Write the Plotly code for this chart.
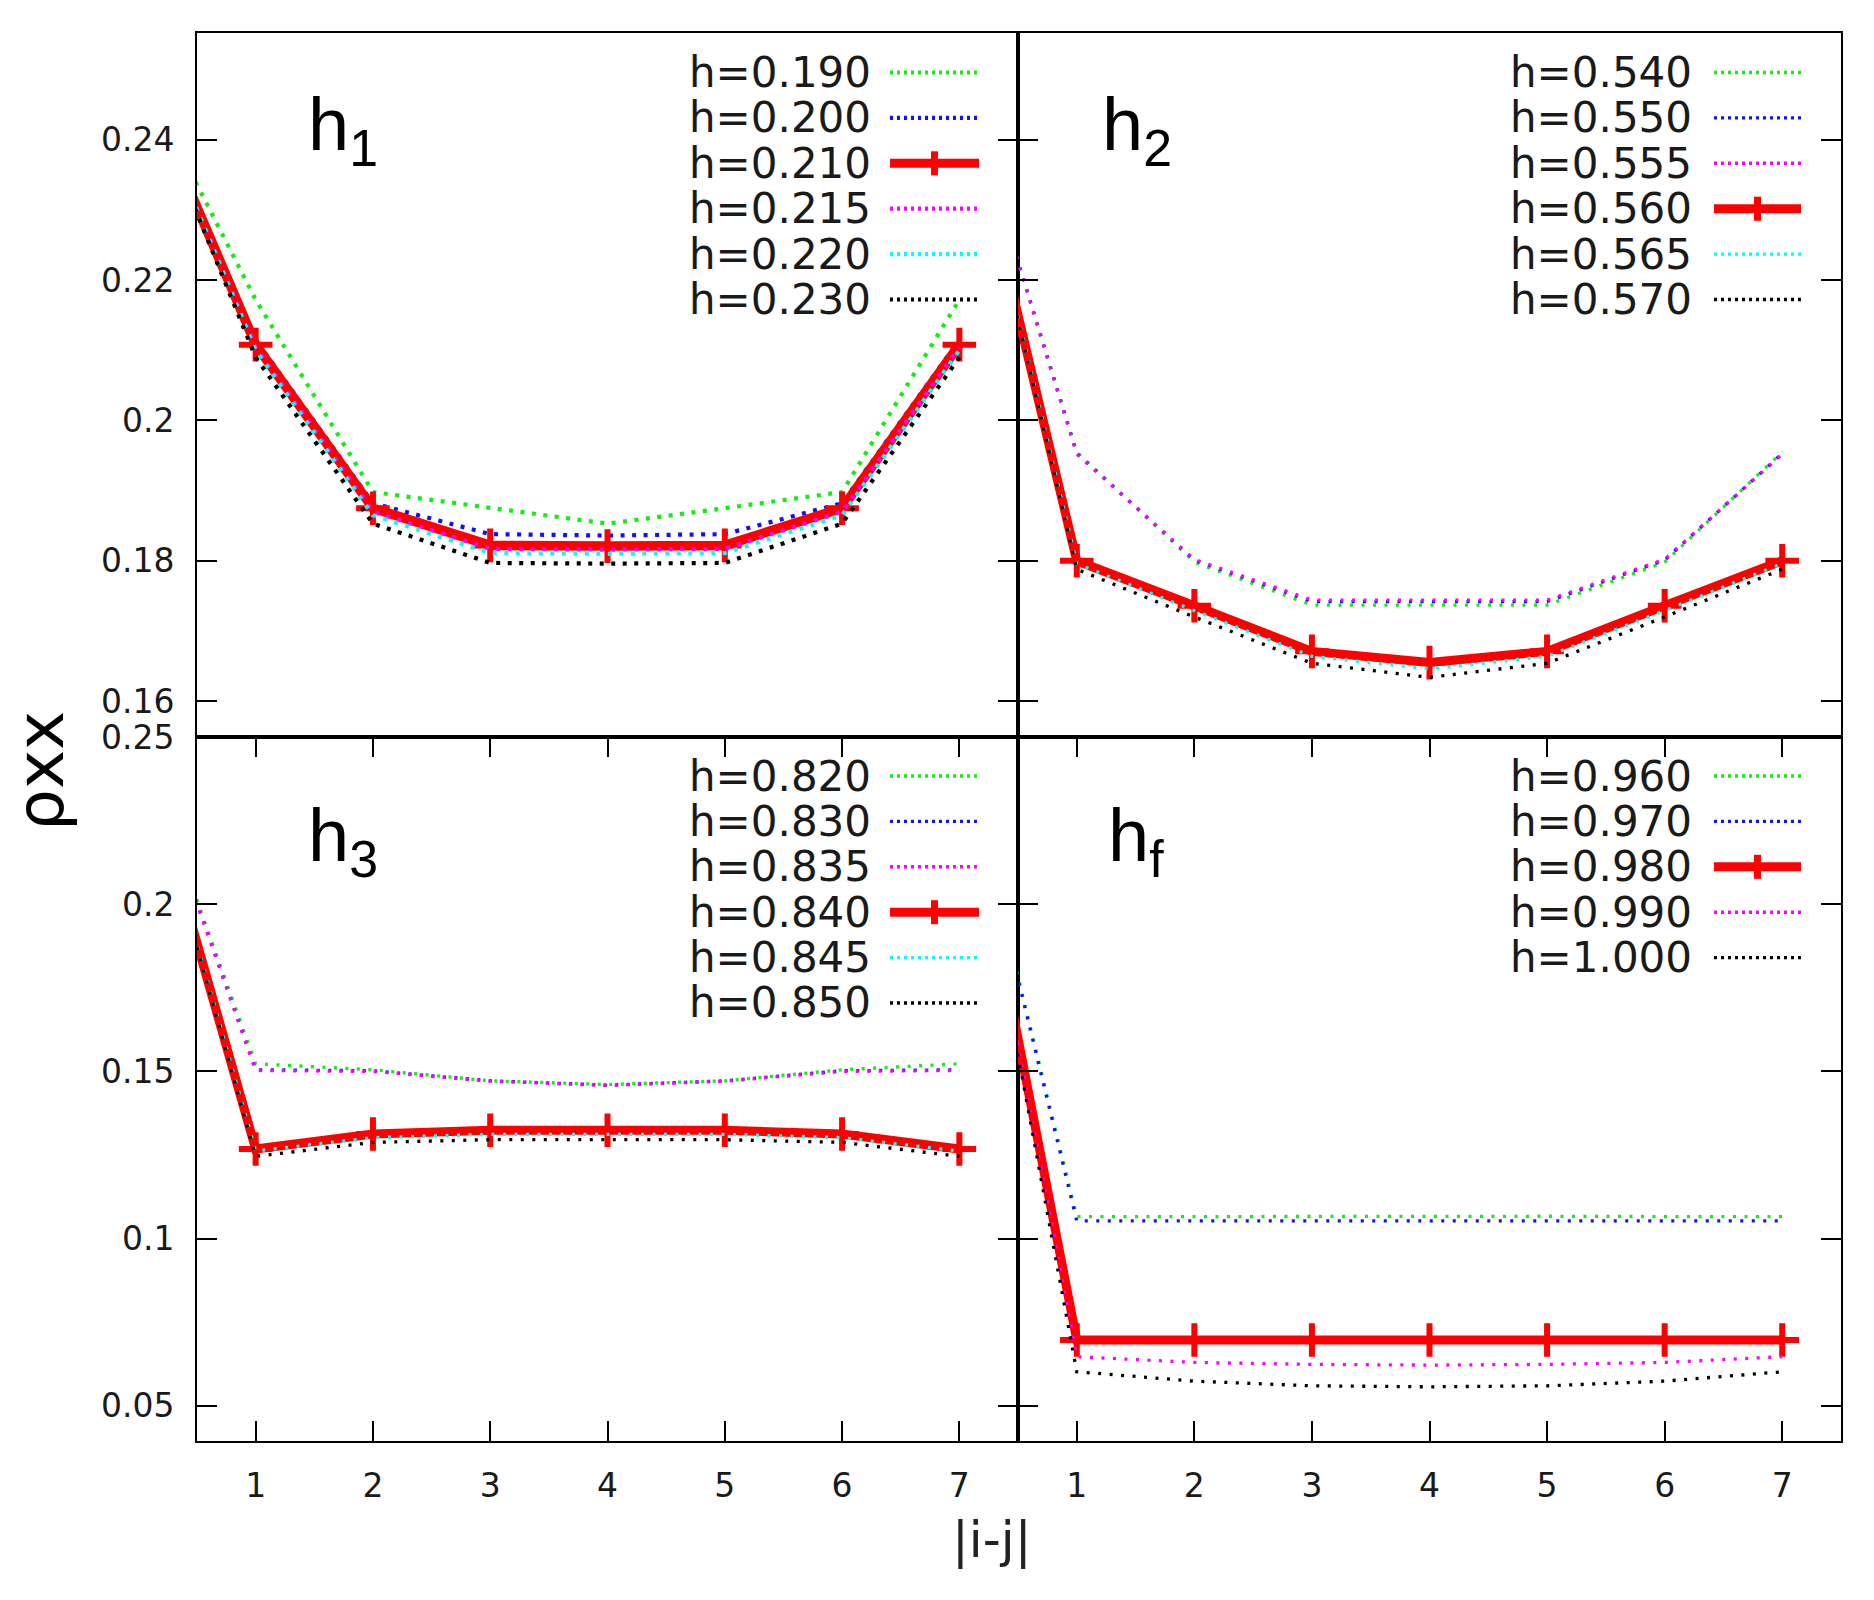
import plotly.graph_objects as go
from plotly.subplots import make_subplots

W, H = 1874, 1600

# ---------------- data ----------------
dist = [0, 1, 2, 3, 4, 5, 6, 7]

# panel h1
h1_labels = ["h=0.190", "h=0.200", "h=0.210", "h=0.215", "h=0.220", "h=0.230"]
rho_h0190 = [0.25, 0.2172, 0.1898, 0.1875, 0.1853, 0.1875, 0.1898, 0.2172]
rho_h0200 = [0.25, 0.2115, 0.1882, 0.1838, 0.1836, 0.1838, 0.1882, 0.2115]
rho_h0210 = [0.25, 0.2108, 0.1875, 0.1822, 0.1821, 0.1822, 0.1875, 0.2108]
rho_h0215 = [0.25, 0.2104, 0.1870, 0.1817, 0.1816, 0.1817, 0.1870, 0.2104]
rho_h0220 = [0.25, 0.2100, 0.1865, 0.1811, 0.1810, 0.1811, 0.1865, 0.2100]
rho_h0230 = [0.25, 0.2090, 0.1853, 0.1797, 0.1796, 0.1797, 0.1853, 0.2090]

# panel h2
h2_labels = ["h=0.540", "h=0.550", "h=0.555", "h=0.560", "h=0.565", "h=0.570"]
rho_h0540 = [0.25, 0.1955, 0.1798, 0.1737, 0.1737, 0.1737, 0.1798, 0.1955]
rho_h0550 = [0.25, 0.1953, 0.1801, 0.1742, 0.1742, 0.1742, 0.1801, 0.1953]
rho_h0555 = [0.25, 0.1952, 0.1802, 0.1744, 0.1744, 0.1744, 0.1802, 0.1952]
rho_h0560 = [0.25, 0.1800, 0.1736, 0.1671, 0.1655, 0.1671, 0.1736, 0.1800]
rho_h0565 = [0.25, 0.1796, 0.1729, 0.1664, 0.1646, 0.1664, 0.1729, 0.1796]
rho_h0570 = [0.25, 0.1788, 0.1720, 0.1654, 0.1634, 0.1654, 0.1720, 0.1788]

# panel h3
h3_labels = ["h=0.820", "h=0.830", "h=0.835", "h=0.840", "h=0.845", "h=0.850"]
rho_h0820 = [0.25, 0.1523, 0.1505, 0.1472, 0.1461, 0.1472, 0.1505, 0.1523]
rho_h0830 = [0.25, 0.1505, 0.1502, 0.1472, 0.1459, 0.1472, 0.1502, 0.1505]
rho_h0835 = [0.25, 0.1503, 0.1500, 0.1471, 0.1458, 0.1471, 0.1500, 0.1503]
rho_h0840 = [0.25, 0.1268, 0.1313, 0.1324, 0.1324, 0.1324, 0.1313, 0.1268]
rho_h0845 = [0.25, 0.1262, 0.1302, 0.1312, 0.1312, 0.1312, 0.1302, 0.1262]
rho_h0850 = [0.25, 0.1246, 0.1288, 0.1296, 0.1296, 0.1296, 0.1288, 0.1246]

# panel hf
hf_labels = ["h=0.960", "h=0.970", "h=0.980", "h=0.990", "h=1.000"]
rho_h0960 = [0.25, 0.1066, 0.1066, 0.1067, 0.1067, 0.1067, 0.1066, 0.1066]
rho_h0970 = [0.25, 0.1053, 0.1053, 0.1053, 0.1053, 0.1053, 0.1053, 0.1053]
rho_h0980 = [0.25, 0.0697, 0.0697, 0.0697, 0.0697, 0.0697, 0.0697, 0.0697]
rho_h0990 = [0.25, 0.0647, 0.0630, 0.0624, 0.0622, 0.0624, 0.0630, 0.0647]
rho_h1000 = [0.25, 0.0602, 0.0574, 0.0560, 0.0557, 0.0560, 0.0574, 0.0602]

x_ticks = [1, 2, 3, 4, 5, 6, 7]
top_yticks = [0.16, 0.18, 0.20, 0.22, 0.24]
top_yticktext = ["0.16", "0.18", "0.2", "0.22", "0.24"]
bot_yticks = [0.05, 0.10, 0.15, 0.20, 0.25]
bot_yticktext = ["0.05", "0.1", "0.15", "0.2", "0.25"]

# ---------------- styling ----------------
GREEN, BLUE, RED, MAGENTA, CYAN, BLACK = "#11ee11", "#1010ff", "#ff0000", "#ff00ff", "#00ffff", "#000000"
FONT = "DejaVu Sans"
TXT = "#1a1a1a"
LEGDOT = "3px,4px"

panels = [
    dict(row=1, col=1, title="h<sub>1</sub>", labels=h1_labels,
         series=[rho_h0190, rho_h0200, rho_h0210, rho_h0215, rho_h0220, rho_h0230],
         colors=[GREEN, BLUE, RED, MAGENTA, CYAN, BLACK], red=2,
         leg=(873, 890, 979, 72.5), lab=(306, 130), dotw=4.2, dot="4px,7.5px",
         redw=9.5, legw=4.2),
    dict(row=1, col=2, title="h<sub>2</sub>", labels=h2_labels,
         series=[rho_h0540, rho_h0550, rho_h0555, rho_h0560, rho_h0565, rho_h0570],
         colors=[GREEN, BLUE, MAGENTA, RED, CYAN, BLACK], red=3,
         leg=(1694, 1714, 1801, 72.5), lab=(1100, 130), dotw=3.3, dot="3px,8.5px",
         redw=9, legw=3.4),
    dict(row=2, col=1, title="h<sub>3</sub>", labels=h3_labels,
         series=[rho_h0820, rho_h0830, rho_h0835, rho_h0840, rho_h0845, rho_h0850],
         colors=[GREEN, BLUE, MAGENTA, RED, CYAN, BLACK], red=3,
         leg=(873, 890, 979, 776), lab=(306, 841), dotw=3.3, dot="3px,8.5px",
         redw=9, legw=3.4),
    dict(row=2, col=2, title="h<sub>f</sub>", labels=hf_labels,
         series=[rho_h0960, rho_h0970, rho_h0980, rho_h0990, rho_h1000],
         colors=[GREEN, BLUE, RED, MAGENTA, BLACK], red=2,
         leg=(1694, 1714, 1801, 776), lab=(1106, 841), dotw=3.3, dot="3px,8.5px",
         redw=9, legw=3.4),
]
ROWSTEP = 45.4


def px(x):
    return x / W


def py(y):
    return 1 - y / H


fig = make_subplots(rows=2, cols=2, horizontal_spacing=0, vertical_spacing=0)

annotations = []
shapes = []

for p in panels:
    for i, (lab, ys, col) in enumerate(zip(p["labels"], p["series"], p["colors"])):
        if i == p["red"]:
            fig.add_trace(go.Scatter(
                x=dist, y=ys, name=lab, mode="lines+markers",
                line=dict(color=col, width=p["redw"]),
                marker=dict(symbol="cross-thin", size=24, color=col,
                            line=dict(color=col, width=6)),
                showlegend=False), row=p["row"], col=p["col"])
        else:
            fig.add_trace(go.Scatter(
                x=dist, y=ys, name=lab, mode="lines",
                line=dict(color=col, width=p["dotw"], dash=p["dot"]),
                showlegend=False), row=p["row"], col=p["col"])

    # manual gnuplot-style key: text on the left, sample on the right
    tr, s0, s1, r0 = p["leg"]
    for i, (lab, col) in enumerate(zip(p["labels"], p["colors"])):
        yy = r0 + i * ROWSTEP
        annotations.append(dict(
            xref="paper", yref="paper", x=px(tr), y=py(yy), text=lab,
            showarrow=False, xanchor="right", yanchor="middle",
            font=dict(family=FONT, size=42, color=TXT)))
        if i == p["red"]:
            shapes.append(dict(type="line", xref="paper", yref="paper",
                               x0=px(s0), x1=px(s1), y0=py(yy), y1=py(yy),
                               line=dict(color=col, width=9)))
            xm = (s0 + s1) / 2
            shapes.append(dict(type="line", xref="paper", yref="paper",
                               x0=px(xm), x1=px(xm), y0=py(yy - 12), y1=py(yy + 12),
                               line=dict(color=col, width=7)))
        else:
            shapes.append(dict(type="line", xref="paper", yref="paper",
                               x0=px(s0), x1=px(s1), y0=py(yy), y1=py(yy),
                               line=dict(color=col, width=p["legw"], dash=LEGDOT)))

    lx, ly = p["lab"]
    annotations.append(dict(
        xref="paper", yref="paper", x=px(lx), y=py(ly), text=p["title"],
        showarrow=False, xanchor="left", yanchor="middle",
        font=dict(family="Liberation Sans", size=74, color="#000000")))

# axis titles
annotations.append(dict(xref="paper", yref="paper", x=px(40), y=py(771),
                        text="ρxx", textangle=-90, showarrow=False,
                        xanchor="center", yanchor="middle",
                        font=dict(family=FONT, size=66, color="#000000")))
annotations.append(dict(xref="paper", yref="paper", x=px(992), y=py(1540),
                        text="|i-j|", showarrow=False,
                        xanchor="center", yanchor="middle",
                        font=dict(family=FONT, size=50, color="#222222")))

left_dom = [px(197), px(1018)]
right_dom = [px(1018), px(1841)]
top_dom = [py(737), py(33)]
bot_dom = [py(1441), py(737)]

common = dict(showline=True, linecolor="#000000", linewidth=2, showgrid=False,
              zeroline=False, ticklen=20, tickwidth=2, tickcolor="#000000",
              automargin=False)
tickfont = dict(family=FONT, size=33, color=TXT)

fig.update_layout(
    xaxis=dict(domain=left_dom, range=[0.5, 7.5], mirror=True, ticks="",
               showticklabels=False, **common),
    xaxis2=dict(domain=right_dom, range=[0.5, 7.5], mirror=True, ticks="",
                showticklabels=False, **common),
    xaxis3=dict(domain=left_dom, range=[0.5, 7.5], mirror="allticks", ticks="inside",
                tickvals=x_ticks, tickfont=tickfont, ticklabelstandoff=14, **common),
    xaxis4=dict(domain=right_dom, range=[0.5, 7.5], mirror="allticks", ticks="inside",
                tickvals=x_ticks, tickfont=tickfont, ticklabelstandoff=14, **common),
    yaxis=dict(domain=top_dom, range=[0.1549, 0.2552], mirror="allticks", ticks="inside",
               tickvals=top_yticks, ticktext=top_yticktext, tickfont=tickfont,
               ticklabelstandoff=14, **common),
    yaxis2=dict(domain=top_dom, range=[0.1549, 0.2552], mirror="allticks", ticks="inside",
                tickvals=top_yticks, showticklabels=False, **common),
    yaxis3=dict(domain=bot_dom, range=[0.0395, 0.25], mirror="allticks", ticks="inside",
                tickvals=bot_yticks, ticktext=bot_yticktext, tickfont=tickfont,
                ticklabelstandoff=14, **common),
    yaxis4=dict(domain=bot_dom, range=[0.0395, 0.25], mirror="allticks", ticks="inside",
                tickvals=bot_yticks, showticklabels=False, **common),
)

fig.update_layout(
    width=W, height=H, margin=dict(l=0, r=0, t=0, b=0, autoexpand=False),
    paper_bgcolor="#ffffff", plot_bgcolor="#ffffff",
    showlegend=False, annotations=annotations, shapes=shapes,
)

fig.write_html("out.html")
